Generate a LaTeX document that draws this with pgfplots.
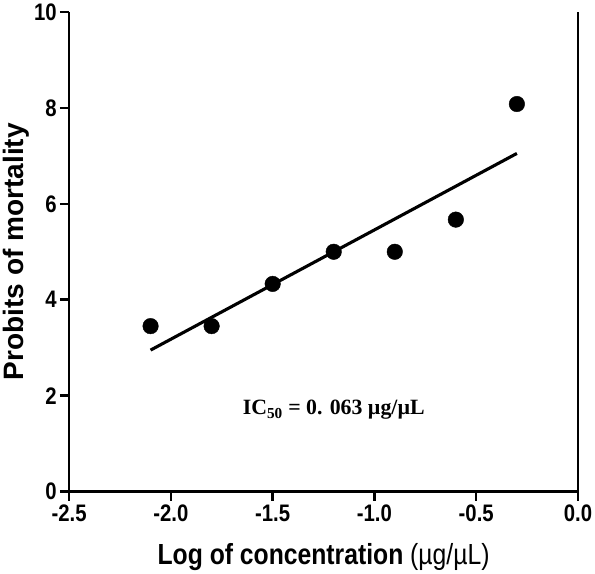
\documentclass[border=0pt]{standalone}
\usepackage{pgfplots}
\pgfplotsset{compat=1.18}
\usepackage{fontspec}
\setmainfont{Liberation Sans}
\newfontfamily\serif{Liberation Serif}
\begin{document}
\begin{tikzpicture}
\begin{axis}[
  width=490pt, height=462pt, scale only axis,
  xmin=-2.5, xmax=0, ymin=0, ymax=10,
  xtick={-2.5,-2,...,0}, ytick={0,2,...,10},
  xticklabel style={/pgf/number format/.cd,fixed,fixed zerofill,precision=1},
  /pgf/number format/assume math mode=true,
  ticklabel style={font=\fontsize{23}{26}\selectfont\bfseries, xscale=0.85},
  axis line style={line width=2.4pt},
  axis x line*=bottom, axis y line*=left,
  tick style={line width=2.4pt, black}, tick align=outside, major tick length=9pt,
  xlabel={\textbf{Log of concentration} (µg/µL)},
  ylabel={\textbf{Probits of mortality}},
  xlabel style={font=\fontsize{28}{30}\selectfont, xscale=0.85, yshift=-14pt},
  ylabel style={font=\fontsize{27}{30}\selectfont, yshift=-2pt},
  clip=false,
]
\draw[line width=2.4pt] (axis cs:0,0) -- (axis cs:0,10);
\addplot[only marks, mark=*, mark size=7.5pt, black] coordinates {
(-2.1,3.45) (-1.8,3.45) (-1.5,4.33) (-1.2,5.0) (-0.9,5.0) (-0.6,5.67) (-0.3,8.08)};
\addplot[line width=3pt, black] coordinates {(-2.1,2.95) (-0.3,7.05)};
\node[font=\serif\bfseries\fontsize{21}{24}\selectfont] at (axis cs:-1.2,1.7) {IC\textsubscript{50} = 0. 063 µg/µL};
\end{axis}
\end{tikzpicture}
\end{document}
